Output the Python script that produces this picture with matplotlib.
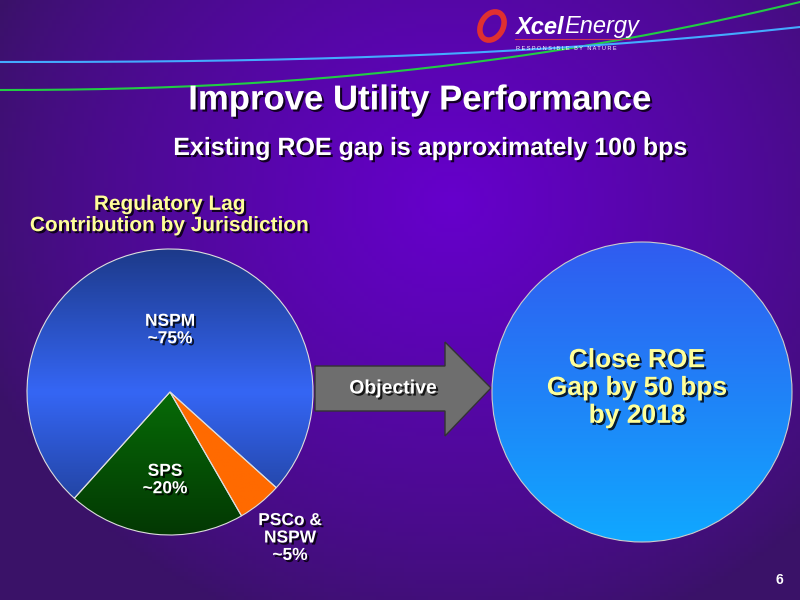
import numpy as np
import matplotlib
matplotlib.use('Agg')
import matplotlib.pyplot as plt
from matplotlib.patches import Circle, Polygon, Ellipse
import matplotlib.patheffects as pe

plt.rcParams['font.family'] = ['Liberation Sans', 'DejaVu Sans']

# data
labels = ['NSPM\n~75%', 'SPS\n~20%', 'PSCo &\nNSPW\n~5%']
shares = [75, 20, 5]
top_cols = ['#1d3a8a', '#0a7a0a', '#7a2a00']
mid_cols = ['#3566f5', '#076b07', '#ff6a00']
bot_cols = ['#1d3a8a', '#033803', '#ff6a00']

fig = plt.figure(figsize=(8, 6), dpi=100)
ax = fig.add_axes([0, 0, 1, 1])
ax.set_xlim(0, 800)
ax.set_ylim(600, 0)
ax.axis('off')

# background gradient
yy, xx = np.mgrid[0:600:4, 0:800:4]
d = np.clip(1 - np.hypot((xx - 450) / 500, (yy - 200) / 450), 0, 1)
c0 = np.array([0x3a, 0x12, 0x68]) / 255
c1 = np.array([0x66, 0x00, 0xcc]) / 255
bg = c0 + (c1 - c0) * d[..., None] ** 0.8
ax.imshow(bg, extent=[0, 800, 600, 0], zorder=0)

# top swooshes
t = np.linspace(0, 800, 200)
ax.plot(t, 90 - 88 * (t / 800) ** 2.2, color='#22cc44', lw=1.5, zorder=1)
ax.plot(t, 62 - 35 * (t / 800) ** 2.5, color='#44aaff', lw=1.5, zorder=1)

# logo
ax.add_patch(Ellipse((492, 26), 22, 30, angle=30, fill=False, ec='#e03030', lw=4, zorder=2))
ax.text(515, 27, 'Xcel', color='white', fontsize=17, fontweight='bold', style='italic', va='center', zorder=3)
ax.text(564, 27, 'Energy', color='white', fontsize=17, style='italic', va='center', zorder=3)
ax.plot([515, 630], [39, 39], color='#cc3355', lw=0.8, zorder=3)
ax.text(516, 48, 'R E S P O N S I B L E   B Y   N A T U R E', color='white', fontsize=4, va='center', zorder=3)

shadow = [pe.withSimplePatchShadow(offset=(1.5, -1.5), shadow_rgbFace='black', alpha=0.8)]

ax.text(420, 100, 'Improve Utility Performance', color='white', fontsize=25, fontweight='bold',
        ha='center', va='center', path_effects=shadow)
ax.text(430, 148, 'Existing ROE gap is approximately 100 bps', color='white', fontsize=18,
        fontweight='bold', ha='center', va='center', path_effects=shadow)
ax.text(170, 215, 'Regulatory Lag\nContribution by Jurisdiction', color='#ffff99', fontsize=15,
        fontweight='bold', ha='center', va='center', linespacing=1.15, path_effects=shadow)

# pie (y axis is inverted, so draw clockwise in data coords)
cx, cy, r = 170, 392, 143
wedges, _ = ax.pie(shares, startangle=42, counterclock=False, center=(cx, cy), radius=r,
                   frame=True, wedgeprops=dict(ec='#dddddd', lw=0.8))
ax.set_xlim(0, 800)
ax.set_ylim(600, 0)
ax.set_aspect('auto')
ax.axis('off')
for w, a, b, c in zip(wedges, top_cols, mid_cols, bot_cols):
    w.set_facecolor('none')
    w.set_zorder(4)
    g = np.linspace(0, 1, 100)[:, None]
    ca, cb, cc = (np.array(matplotlib.colors.to_rgb(k)) for k in (a, b, c))
    grad = np.where(g < 0.5, ca + (cb - ca) * (g / 0.5), cb + (cc - cb) * ((g - 0.5) / 0.5))
    im = ax.imshow(grad[:, None, :] * np.ones((1, 2, 1)), extent=[cx - r, cx + r, cy + r, cy - r],
                   zorder=3, aspect='auto')
    im.set_clip_path(w)

lab_pos = [(170, 330), (165, 480), (290, 538)]
for lab, (x, y) in zip(labels, lab_pos):
    ax.text(x, y, lab, color='white', fontsize=12.5, fontweight='bold', ha='center', va='center',
            linespacing=1.2, path_effects=shadow, zorder=6)

# arrow
arrow = Polygon([(315, 366), (445, 366), (445, 342), (491, 388), (445, 436), (445, 411), (315, 411)],
                closed=True, fc='#6e6e6e', ec='#333333', lw=1, zorder=3)
ax.add_patch(arrow)
ax.text(393, 389, 'Objective', color='white', fontsize=14, fontweight='bold', ha='center',
        va='center', path_effects=shadow, zorder=4)

# right circle
rc = Circle((642, 392), 150, fc='none', ec='#cccccc', lw=0.8, zorder=4)
ax.add_patch(rc)
g = np.linspace(0, 1, 100)[:, None]
ctop = np.array([0x30, 0x5c, 0xf0]) / 255
cbot = np.array([0x10, 0xa8, 0xff]) / 255
im = ax.imshow((ctop + (cbot - ctop) * g)[:, None, :] * np.ones((1, 2, 1)),
               extent=[492, 792, 542, 242], zorder=3, aspect='auto')
im.set_clip_path(rc)
ax.text(637, 388, 'Close ROE\nGap by 50 bps\nby 2018', color='#ffff99', fontsize=19, fontweight='bold',
        ha='center', va='center', linespacing=1.2, path_effects=shadow, zorder=5)

ax.text(779, 580, '6', color='white', fontsize=10, fontweight='bold', ha='center', va='center')

fig.savefig('out.png', dpi=100)
